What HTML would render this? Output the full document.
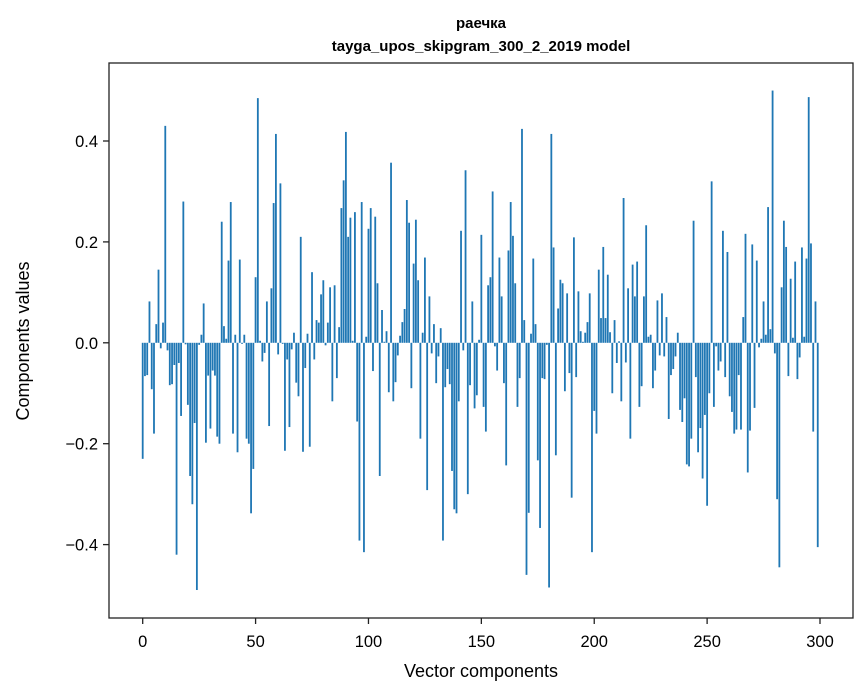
<!DOCTYPE html>
<html><head><meta charset="utf-8"><style>
body{margin:0;background:#fff}
svg{display:block;font-family:"Liberation Sans","DejaVu Sans",sans-serif}
</style></head><body>
<svg id="chart" width="867" height="696" viewBox="0 0 867 696">
<text x="481" y="28" text-anchor="middle" font-size="15" font-weight="bold">раечка</text>
<text x="481" y="51" text-anchor="middle" font-size="15" font-weight="bold">tayga_upos_skipgram_300_2_2019 model</text>
<g id="bars"></g>
<g id="axes"></g>
<text x="481" y="677" text-anchor="middle" font-size="18">Vector components</text>
<text x="29" y="341" text-anchor="middle" font-size="18" transform="rotate(-90 29 341)">Components values</text>
</svg>
<script>
const values = [
-0.23,-0.066,-0.064,0.082,-0.092,-0.18,0.037,0.145,-0.011,0.04,
0.43,-0.015,-0.084,-0.082,-0.044,-0.42,-0.04,-0.145,0.28,-0.003,
-0.123,-0.264,-0.32,-0.159,-0.49,-0.004,0.016,0.078,-0.198,-0.065,
-0.17,-0.055,-0.065,-0.186,-0.2,0.24,0.033,0.008,0.163,0.279,
-0.18,0.016,-0.217,0.165,-0.002,0.016,-0.19,-0.2,-0.338,-0.25,
0.13,0.485,0.004,-0.037,-0.02,0.082,-0.165,0.108,0.277,0.414,
-0.023,0.316,-0.002,-0.214,-0.033,-0.167,-0.013,0.02,-0.079,-0.106,
0.21,-0.216,-0.05,0.018,-0.206,0.14,-0.033,0.045,0.04,0.096,
0.124,-0.005,0.04,0.11,-0.116,0.114,-0.07,0.031,0.267,0.322,
0.418,0.21,0.248,0.004,0.259,-0.156,-0.392,0.279,-0.415,0.012,
0.226,0.267,-0.056,0.25,0.118,-0.264,0.065,0.002,0.023,-0.098,
0.357,-0.116,-0.078,-0.025,0.014,0.041,0.067,0.283,0.238,-0.09,
0.157,0.244,0.124,-0.19,0.02,0.169,-0.292,0.092,-0.021,0.037,
-0.08,-0.027,0.029,-0.392,-0.088,-0.052,-0.082,-0.254,-0.33,-0.338,
-0.116,0.222,-0.015,0.342,-0.3,-0.084,0.082,-0.13,-0.104,0.006,
0.214,-0.127,-0.176,0.114,0.13,0.3,-0.007,-0.055,0.169,0.092,
-0.08,-0.243,0.183,0.279,0.212,0.118,-0.127,-0.07,0.424,0.045,
-0.46,-0.337,0.018,0.167,0.037,-0.233,-0.367,-0.07,-0.072,-0.004,
-0.485,0.414,0.189,-0.223,0.068,0.125,0.118,-0.096,0.098,-0.06,
-0.307,0.209,-0.068,0.102,0.023,0.002,0.02,0.041,0.098,-0.415,
-0.135,-0.18,0.145,0.049,0.19,0.049,0.135,0.021,-0.1,0.045,
-0.04,0.003,-0.116,0.287,-0.039,0.108,-0.19,0.155,0.092,0.161,
-0.127,-0.086,0.092,0.233,0.012,0.016,-0.09,-0.055,0.084,-0.025,
0.098,-0.027,0.051,-0.151,-0.064,-0.052,-0.027,0.02,-0.133,-0.157,
-0.11,-0.241,-0.245,-0.19,0.242,-0.068,-0.217,-0.169,-0.269,-0.143,
-0.323,-0.1,0.32,-0.127,-0.007,-0.055,-0.037,0.222,-0.068,0.18,
-0.106,-0.137,-0.18,-0.172,-0.064,-0.172,0.051,0.216,-0.257,-0.174,
0.195,-0.129,0.163,-0.009,0.008,0.082,0.016,0.269,0.027,0.5,
-0.021,-0.31,-0.445,0.11,0.242,0.19,-0.066,0.127,0.01,0.161,
-0.072,-0.029,0.189,0.012,0.167,0.487,0.197,-0.176,0.082,-0.405
];
const xTicks = [0,50,100,150,200,250,300];
const yTicks = [-0.4,-0.2,0,0.2,0.4];

const L=109,R=853,T=63,B=618;
const x0=142.7, xPer=(820-142.7)/300;
const y0=342.8, yPer=504.5;
const xs = v => x0 + v*xPer;
const ys = v => y0 - v*yPer;
const NS='http://www.w3.org/2000/svg';
const bars=document.getElementById('bars');
values.forEach((v,i)=>{
  const r=document.createElementNS(NS,'rect');
  const w=0.8*xPer;
  r.setAttribute('x',xs(i)-w/2);
  r.setAttribute('width',w);
  r.setAttribute('y',Math.min(ys(v),ys(0)));
  r.setAttribute('height',Math.abs(ys(v)-ys(0)));
  r.setAttribute('fill','#1f77b4');
  
  
  bars.appendChild(r);
});
const axes=document.getElementById('axes');
const frame=document.createElementNS(NS,'rect');
frame.setAttribute('x',L);frame.setAttribute('y',T);
frame.setAttribute('width',R-L);frame.setAttribute('height',B-T);
frame.setAttribute('fill','none');frame.setAttribute('stroke','#222');frame.setAttribute('stroke-width','1.3');


axes.appendChild(frame);
xTicks.forEach(t=>{
  const l=document.createElementNS(NS,'line');
  l.setAttribute('x1',xs(t));l.setAttribute('x2',xs(t));l.setAttribute('y1',B);l.setAttribute('y2',B+6);
  l.setAttribute('stroke','#222');l.setAttribute('stroke-width','1.3');
  
  
  axes.appendChild(l);
  const tx=document.createElementNS(NS,'text');
  tx.setAttribute('x',xs(t));tx.setAttribute('y',B+29);tx.setAttribute('text-anchor','middle');tx.setAttribute('font-size','16.5');
  tx.textContent=String(t);
  
  
  axes.appendChild(tx);
});
yTicks.forEach(t=>{
  const l=document.createElementNS(NS,'line');
  l.setAttribute('x1',L-6);l.setAttribute('x2',L);l.setAttribute('y1',ys(t));l.setAttribute('y2',ys(t));
  l.setAttribute('stroke','#222');l.setAttribute('stroke-width','1.3');
  
  
  axes.appendChild(l);
  const tx=document.createElementNS(NS,'text');
  tx.setAttribute('x',L-11);tx.setAttribute('y',ys(t)+6);tx.setAttribute('text-anchor','end');tx.setAttribute('font-size','16.5');
  tx.textContent=(t<0?'\u2212':'')+Math.abs(t).toFixed(1);
  
  
  axes.appendChild(tx);
});
</script>
</body></html>
